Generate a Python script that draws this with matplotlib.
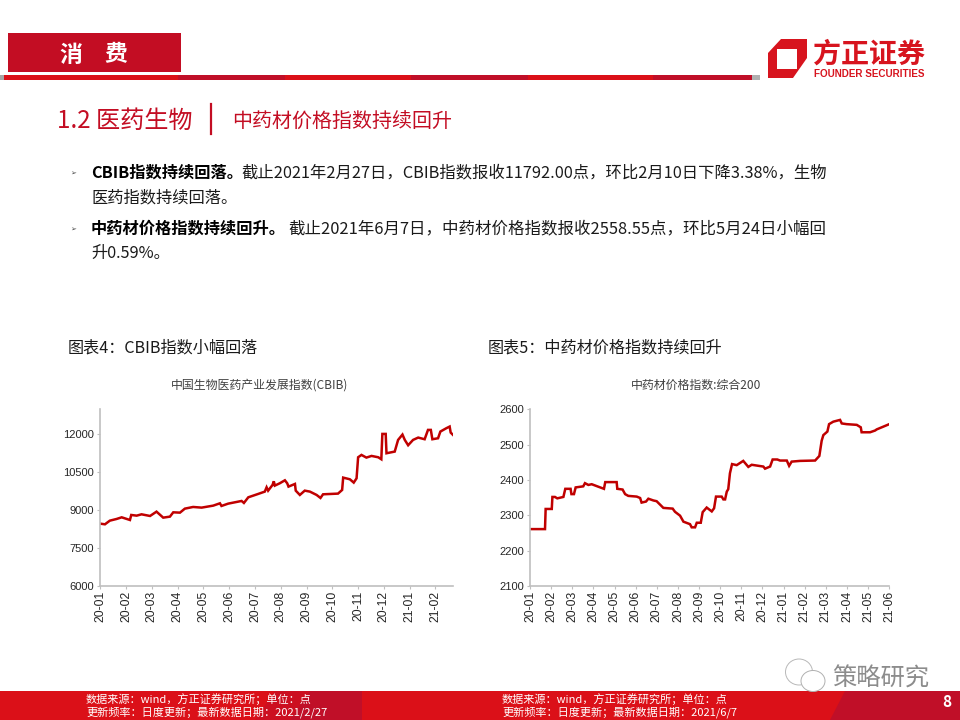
#!/usr/bin/env python

import matplotlib
matplotlib.use('Agg')
import matplotlib.pyplot as plt
from matplotlib.patches import Rectangle, Polygon, Ellipse

plt.rcParams['font.family'] = ['Noto Sans CJK SC', 'DejaVu Sans']

# CBIB index, x in months since 2020-01
cbib_month = [0, .18, .37, .63, .83, 1.15, 1.20, 1.41, 1.60, 1.93, 2.18, 2.44, 2.70, 2.83, 3.09, 3.28,
              3.60, 3.93, 4.38, 4.64, 4.70, 4.96, 5.48, 5.57, 5.74, 6.12, 6.38, 6.45, 6.51, 6.68, 6.73,
              6.77, 6.96, 7.16, 7.25, 7.30, 7.55, 7.58, 7.74, 7.93, 8.13, 8.39, 8.54, 8.64, 9.22, 9.38,
              9.42, 9.68, 9.83, 9.94, 10.0, 10.13, 10.32, 10.52, 10.78, 10.90, 10.94, 11.07, 11.10,
              11.42, 11.55, 11.72, 11.81, 11.94, 12.13, 12.33, 12.58, 12.71, 12.82, 12.88, 13.10, 13.19,
              13.42, 13.55, 13.59, 13.68]
cbib_value = [8458, 8432, 8577, 8643, 8709, 8603, 8802, 8775, 8828, 8762, 8934, 8696, 8736, 8907, 8894, 9053,
              9119, 9093, 9172, 9264, 9159, 9251, 9357, 9278, 9502, 9634, 9727, 9899, 9766, 9991, 10136,
              9965, 10057, 10176, 10057, 9925, 10031, 9766, 9595, 9766, 9727, 9595, 9476, 9621, 9648, 9793,
              10282, 10216, 10084, 10255, 11088, 11181, 11075, 11141, 11088, 11009, 12013, 12013, 11247,
              11313, 11775, 11987, 11775, 11564, 11775, 11868, 11802, 12172, 12172, 11802, 11841, 12106,
              12238, 12304, 12066, 11974]
cbib_ticks = ['20-01', '20-02', '20-03', '20-04', '20-05', '20-06', '20-07', '20-08', '20-09', '20-10',
              '20-11', '20-12', '21-01', '21-02']
cbib_yticks = [6000, 7500, 9000, 10500, 12000]

# herb price index, x in months since 2020-01
herb_month = [0, .71, .74, 1.03, 1.06, 1.18, 1.29, 1.58, 1.67, 1.92, 1.96, 2.08, 2.16, 2.52, 2.60, 2.76,
              2.92, 3.23, 3.50, 3.56, 4.10, 4.13, 4.38, 4.50, 4.65, 5.05, 5.21, 5.28, 5.49, 5.60, 5.84,
              5.99, 6.31, 6.75, 6.86, 7.10, 7.26, 7.57, 7.65, 7.81, 7.89, 8.08, 8.17, 8.36, 8.60, 8.71,
              8.80, 9.07, 9.15, 9.23, 9.31, 9.38, 9.46, 9.56, 9.78, 10.09, 10.33, 10.49, 11.04, 11.12,
              11.36, 11.48, 11.70, 11.83, 12.15, 12.26, 12.38, 12.78, 13.49, 13.69, 13.80, 13.88, 14.07,
              14.15, 14.35, 14.67, 14.75, 14.98, 15.46, 15.65, 15.69, 16.09, 16.33, 16.40, 16.64, 17]
herb_value = [2261, 2261, 2318, 2318, 2352, 2352, 2348, 2352, 2375, 2375, 2360, 2360, 2379, 2382, 2391, 2386,
              2388, 2381, 2375, 2394, 2394, 2375, 2373, 2360, 2355, 2353, 2349, 2336, 2339, 2347, 2342,
              2340, 2321, 2319, 2310, 2299, 2282, 2275, 2266, 2266, 2279, 2279, 2309, 2322, 2311, 2320,
              2353, 2353, 2345, 2345, 2367, 2374, 2419, 2445, 2442, 2454, 2437, 2443, 2438, 2432,
              2438, 2458, 2458, 2455, 2455, 2440, 2452, 2454, 2455, 2468, 2511, 2527, 2537,
              2558, 2565, 2570, 2560, 2558, 2556, 2549, 2535, 2535, 2540, 2543, 2549, 2558]
herb_ticks = cbib_ticks + ['21-03', '21-04', '21-05', '21-06']
herb_yticks = [2100, 2200, 2300, 2400, 2500, 2600]

RED = '#C30D23'
BRIGHT = '#DB1018'
DARK = '#C00F28'
LINE = '#C00000'
W, H = 960.0, 720.0


def chart_axes(fig, x0, x1, y0, y1):
    # pixel box, y measured from the top
    ax = fig.add_axes([x0 / W, 1 - y1 / H, (x1 - x0) / W, (y1 - y0) / H])
    for s in ['top', 'right']:
        ax.spines[s].set_visible(False)
    for s in ['left', 'bottom']:
        ax.spines[s].set_color('#BFBFBF')
        ax.spines[s].set_linewidth(1.2)
    ax.tick_params(length=2.5, width=0.8, color='#BFBFBF', labelcolor='#262626', pad=2)
    ax.tick_params(axis='y', labelsize=8)
    ax.tick_params(axis='x', labelsize=8.8, pad=1)
    ax.patch.set_alpha(0)
    return ax


def draw_series(ax, x, y, ticks, yticks, xlim, ylim):
    ax.plot(x, y, color=LINE, lw=1.8, solid_joinstyle='miter')
    ax.set_xlim(*xlim)
    ax.set_ylim(*ylim)
    ax.set_xticks(range(len(ticks)))
    ax.set_xticklabels(ticks, rotation=90, family='Liberation Sans')
    ax.set_yticks(yticks)
    ax.set_yticklabels([str(v) for v in yticks], family='Liberation Sans')


fig = plt.figure(figsize=(9.6, 7.2), dpi=100)

# page furniture is placed on an overlay in pixel coordinates
bg = fig.add_axes([0, 0, 1, 1])
bg.set_xlim(0, W)
bg.set_ylim(H, 0)
bg.axis('off')

bg.add_patch(Rectangle((8, 33), 173, 39, color=RED, lw=0))
bg.text(71, 55, '消', color='white', fontsize=16.5, weight='bold', ha='center', va='center')
bg.text(116, 55, '费', color='white', fontsize=16.5, weight='bold', ha='center', va='center')

bg.add_patch(Rectangle((0, 75), 4, 5, color='#A6A6A6', lw=0))
bg.add_patch(Rectangle((752, 75), 8, 5, color='#B0B0B0', lw=0))
for x0, x1, c in [(4, 178, BRIGHT), (178, 285, DARK), (285, 411, BRIGHT), (411, 528, DARK),
                  (528, 653, BRIGHT), (653, 752, DARK)]:
    bg.add_patch(Rectangle((x0, 75), x1 - x0, 5, color=c, lw=0))

# logo
bg.add_patch(Polygon([(768, 53), (781, 39), (807, 39), (807, 58), (793, 78), (768, 78)], color='#D7141E', lw=0))
bg.add_patch(Rectangle((777, 49), 20, 20, color='white', lw=0))
bg.text(869, 54.5, '方正证券', color='#D7141E', fontsize=20.2, weight='bold', ha='center', va='center')
bg.text(869, 74, 'FOUNDER SECURITIES', color='#D7141E', fontsize=7.1, weight='bold', ha='center', va='center',
        family='Liberation Sans')

# section heading
bg.text(57, 121, '1.2 医药生物', color=RED, fontsize=17.4, ha='left', va='center')
bg.plot([211, 211], [104, 134], color=RED, lw=1.6)
bg.text(232, 122, '中药材价格指数持续回升', color=RED, fontsize=14.4, ha='left', va='center')

# body text
body = '#1A1A1A'
for y in [173, 229]:
    bg.text(70, y + 1, '➢', fontsize=5, color='#404040', ha='left', va='center', family=['DejaVu Sans'])
bg.text(91, 173, 'CBIB指数持续回落。', fontsize=11.7, weight='bold', color='black', ha='left', va='center')
bg.text(241, 173, '截止2021年2月27日，CBIB指数报收11792.00点，环比2月10日下降3.38%，生物', fontsize=11.76,
        color=body, ha='left', va='center')
bg.text(91, 198, '医药指数持续回落。', fontsize=11.7, color=body, ha='left', va='center')
bg.text(91, 229, '中药材价格指数持续回升。', fontsize=11.7, weight='bold', color='black', ha='left', va='center')
bg.text(288, 229, '截止2021年6月7日，中药材价格指数报收2558.55点，环比5月24日小幅回', fontsize=11.85,
        color=body, ha='left', va='center')
bg.text(91, 253, '升0.59%。', fontsize=11.7, color=body, ha='left', va='center')

# figure captions
bg.text(68, 348, '图表4：CBIB指数小幅回落', fontsize=11.6, color=body, ha='left', va='center')
bg.text(488, 348, '图表5：中药材价格指数持续回升', fontsize=11.6, color=body, ha='left', va='center')
bg.text(259.5, 385.5, '中国生物医药产业发展指数(CBIB)', fontsize=8.6, color='#404040', ha='center', va='center')
bg.text(696, 385.5, '中药材价格指数:综合200', fontsize=8.6, color='#404040', ha='center', va='center')

# footer: bright band with darker slanted panels
bg.add_patch(Rectangle((0, 691), 960, 29, color=BRIGHT, lw=0))
bg.add_patch(Polygon([(255, 720), (275, 691), (362, 691), (362, 720)], color='#CC0F20', lw=0))
bg.add_patch(Polygon([(290, 720), (310, 691), (362, 691), (362, 720)], color=DARK, lw=0))
bg.add_patch(Polygon([(830, 720), (845, 691), (960, 691), (960, 720)], color=DARK, lw=0))
foot = [(86, '数据来源：wind，方正证券研究所；单位：点', '更新频率：日度更新；最新数据日期：2021/2/27'),
        (502, '数据来源：wind，方正证券研究所；单位：点', '更新频率：日度更新；最新数据日期：2021/6/7')]
for x, a, b in foot:
    bg.text(x, 699, a, fontsize=8, color='white', ha='left', va='center')
    bg.text(x, 712, b, fontsize=8, color='white', ha='left', va='center')
bg.text(947, 702, '8', fontsize=11, color='white', weight='bold', ha='center', va='center')

# watermark
bg.add_patch(Ellipse((799, 672), 27, 26, fc='white', ec='#B8B8B8', lw=0.7))
bg.add_patch(Ellipse((813, 681), 24, 21, fc='white', ec='#B0B0B0', lw=0.7))
bg.text(881, 679, '策略研究', fontsize=17.5, color='#8C8C8C', ha='center', va='center')

ax1 = chart_axes(fig, 100.3, 453, 409, 585.7)
draw_series(ax1, cbib_month, cbib_value, cbib_ticks, cbib_yticks, (0, 13.68), (6000, 13000))

ax2 = chart_axes(fig, 530, 889.3, 409.3, 586)
draw_series(ax2, herb_month, herb_value, herb_ticks, herb_yticks, (0, 17), (2100, 2600))

plt.savefig('out.png', dpi=100)
